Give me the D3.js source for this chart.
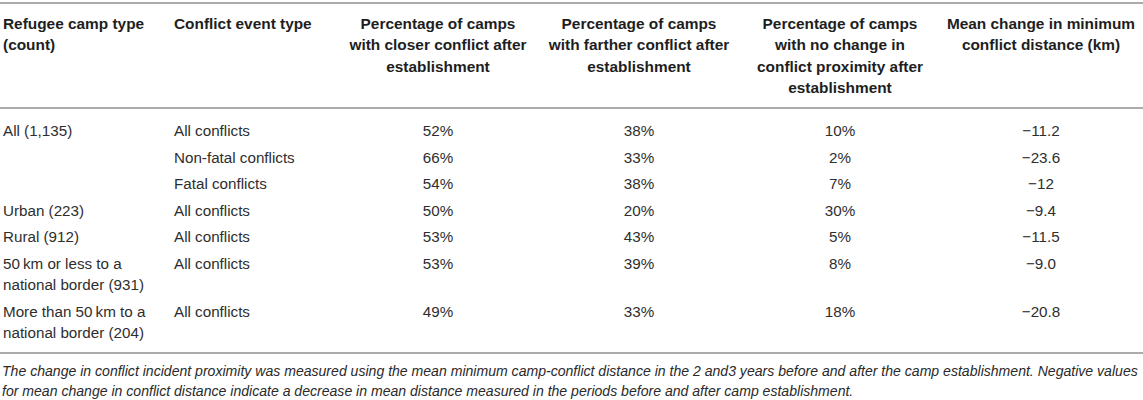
<!DOCTYPE html>
<html><head><meta charset="utf-8">
<script src="https://cdn.jsdelivr.net/npm/d3@7"></script>
<style>
html,body{margin:0;padding:0;background:#fff;}
svg{display:block;}
</style></head>
<body>
<svg id="chart" width="1143" height="400"></svg>
<script>
// ---- data ----
const headerCamp = ["Refugee camp type", "(count)"];
const headerConflict = ["Conflict event type"];
const headerValues = [
  ["Percentage of camps", "with closer conflict after", "establishment"],
  ["Percentage of camps", "with farther conflict after", "establishment"],
  ["Percentage of camps", "with no change in", "conflict proximity after", "establishment"],
  ["Mean change in minimum", "conflict distance (km)"]
];
const campTypes = [
  ["All (1,135)"], [""], [""], ["Urban (223)"], ["Rural (912)"],
  ["50\u2009km or less to a", "national border (931)"],
  ["More than 50\u2009km to a", "national border (204)"]
];
const conflictTypes = ["All conflicts", "Non-fatal conflicts", "Fatal conflicts", "All conflicts", "All conflicts", "All conflicts", "All conflicts"];
const closerPct  = [52, 66, 54, 50, 53, 53, 49];
const fartherPct = [38, 33, 38, 20, 43, 39, 33];
const noChangePct = [10, 2, 7, 30, 5, 8, 18];
const meanChange = ["-11.2", "-23.6", "-12", "-9.4", "-11.5", "-9.0", "-20.8"];
const footnote = [
  "The change in conflict incident proximity was measured using the mean minimum camp-conflict distance in the 2 and3 years before and after the camp establishment. Negative values",
  "for mean change in conflict distance indicate a decrease in mean distance measured in the periods before and after camp establishment."
];

// ---- layout ----
const W = 1143;
const svg = d3.select("#chart");
const font = "'Liberation Sans', Arial, Helvetica, sans-serif";
const ruleColor = "#ababab";
const headColor = "#1e1e1e";
const bodyColor = "#2e2e2e";

const colX = d3.scalePoint().domain([0, 1, 2, 3]).range([438, 1041]);
const col1X = 3, col2X = 174;

const headLine = 21.6, headTop = 23;
const bodyTop = 131, rowPitch = 26.5, wrapLine = 21.3;

// rules
const rules = [3, 108, 353];
svg.selectAll("line.rule").data(rules).join("line")
  .attr("class", "rule")
  .attr("x1", 0).attr("x2", W)
  .attr("y1", d => d).attr("y2", d => d)
  .attr("stroke", ruleColor).attr("stroke-width", 1.8);

// header
function multiline(g, lines, x, y0, lh, anchor, opts) {
  const t = g.append("text")
    .attr("x", x).attr("text-anchor", anchor)
    .attr("font-family", font).attr("font-size", opts.size)
    .attr("font-weight", opts.weight || "normal")
    .attr("font-style", opts.style || "normal")
    .attr("fill", opts.fill);
  lines.forEach((l, i) => {
    t.append("tspan").attr("x", x).attr("y", y0 + i * lh).attr("dy", "0.36em").text(l);
  });
  return t;
}
const hg = svg.append("g");
const hOpts = {size: 15.4, weight: "bold", fill: headColor};
multiline(hg, headerCamp, col1X, headTop, headLine, "start", hOpts);
multiline(hg, headerConflict, col2X, headTop, headLine, "start", hOpts);
headerValues.forEach((lines, i) => multiline(hg, lines, colX(i), headTop, headLine, "middle", hOpts));

// body rows
const rowY = [];
let y = bodyTop;
campTypes.forEach((lines, i) => {
  rowY.push(y);
  y += rowPitch + (lines.length - 1) * wrapLine;
});
const bOpts = {size: 15.2, fill: bodyColor};
const bg = svg.append("g");
const fmtPct = d => d + "%";
const fmtNum = s => s.replace("-", "\u2212");
campTypes.forEach((lines, i) => {
  multiline(bg, lines, col1X, rowY[i], wrapLine, "start", bOpts);
  multiline(bg, [conflictTypes[i]], col2X, rowY[i], wrapLine, "start", bOpts);
  multiline(bg, [fmtPct(closerPct[i])], colX(0), rowY[i], wrapLine, "middle", bOpts);
  multiline(bg, [fmtPct(fartherPct[i])], colX(1), rowY[i], wrapLine, "middle", bOpts);
  multiline(bg, [fmtPct(noChangePct[i])], colX(2), rowY[i], wrapLine, "middle", bOpts);
  multiline(bg, [fmtNum(meanChange[i])], colX(3), rowY[i], wrapLine, "middle", bOpts);
});

// footnote
const fg = svg.append("g");
const fn = multiline(fg, footnote, 2, 371, 20, "start", {size: 14, style: "italic", fill: "#2a2a2a"});
// fit first footnote line to the table width
const first = fn.select("tspan").node();
const len = first.getComputedTextLength();
const target = 1137;
fn.attr("font-size", 14 * target / len);
</script>
</body></html>
